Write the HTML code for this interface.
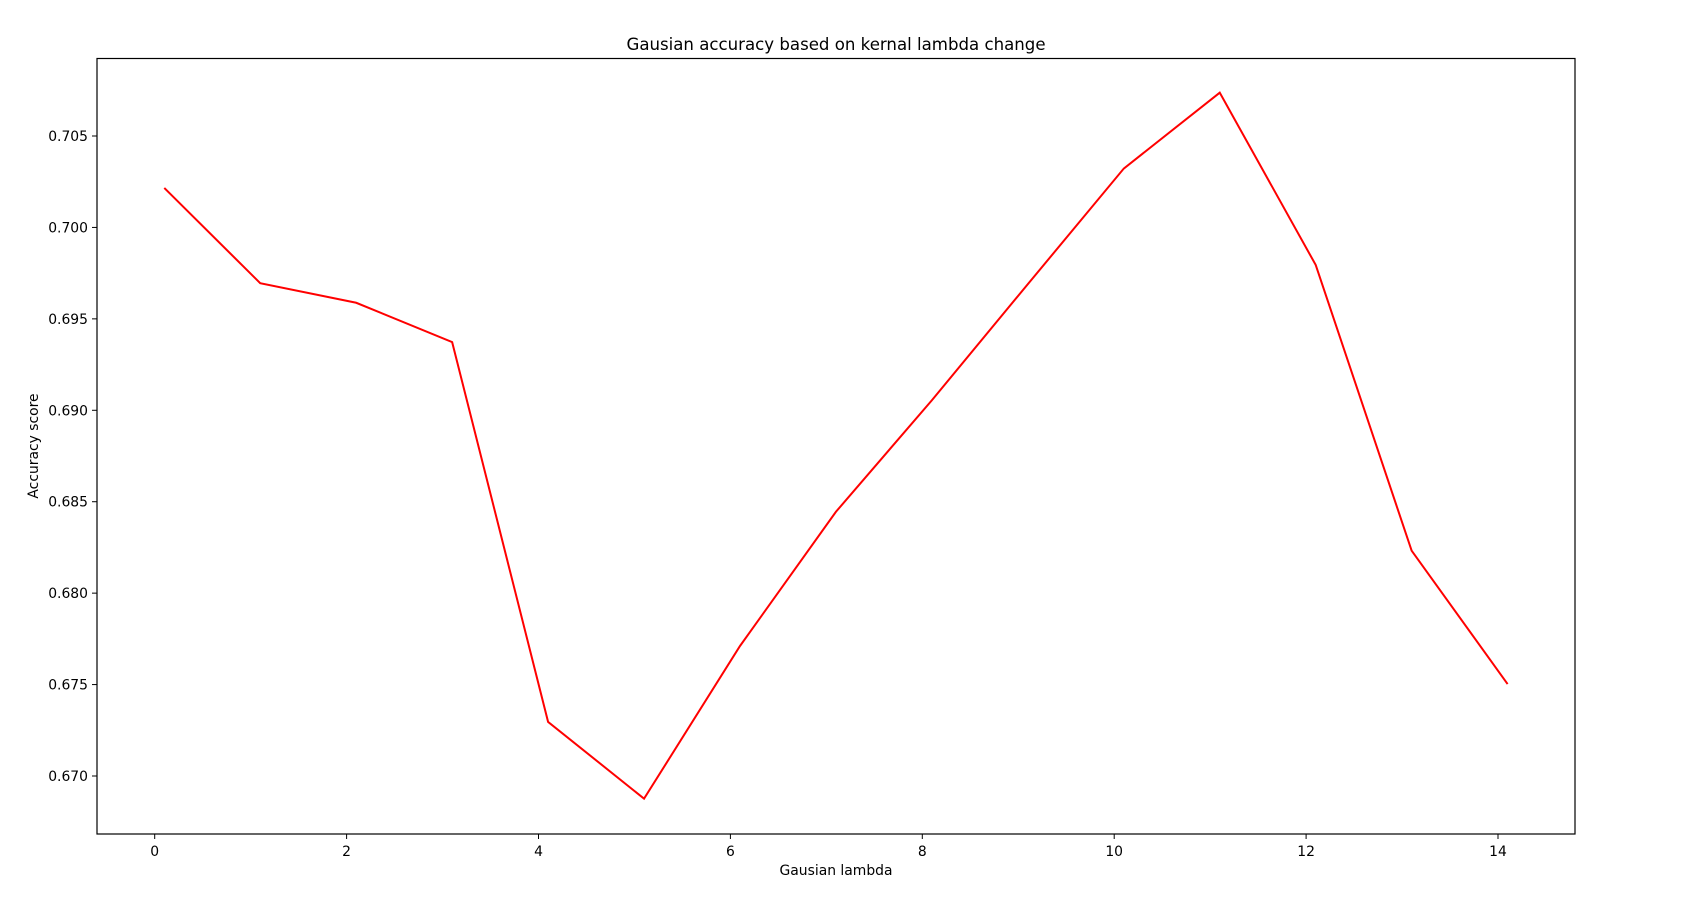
<!DOCTYPE html>
<html><head><meta charset="utf-8"><style>
body{margin:0;background:#fff;}
svg{display:block;font-family:"DejaVu Sans","Liberation Sans",sans-serif;}
</style></head><body>
<svg id="chart" width="1698" height="904">
<text x="836" y="50" text-anchor="middle" font-size="16.6">Gausian accuracy based on kernal lambda change</text>
<text x="836" y="875" text-anchor="middle" font-size="13.9">Gausian lambda</text>
<text x="0" y="0" transform="translate(38,446) rotate(-90)" text-anchor="middle" font-size="13.9">Accuracy score</text>
<g id="ticks"></g>
<polyline id="series" fill="none" stroke="#ff0000" stroke-width="2"/>
<rect x="97" y="58.5" width="1478" height="775.5" fill="none" stroke="#000" stroke-width="1.2"/>
</svg>
<script>
const lambdas=[0.1,1.1,2.1,3.1,4.1,5.1,6.1,7.1,8.1,9.1,10.1,11.1,12.1,13.1,14.1];
const accuracy=[0.70216,0.69695,0.69588,0.69373,0.67296,0.66876,0.67711,0.68445,0.69055,0.6969,0.70322,0.70737,0.69795,0.68232,0.67503];
const xTicks=[0,2,4,6,8,10,12,14];
const yTicks=[0.670,0.675,0.680,0.685,0.690,0.695,0.700,0.705];
const xs=v=>154.7+(v-0)*95.95;
const ys=v=>776-(v-0.670)*(640/0.035);
const NS="http://www.w3.org/2000/svg";
const g=document.getElementById('ticks');
xTicks.forEach(t=>{
 const l=document.createElementNS(NS,'line');
 l.setAttribute('x1',xs(t));l.setAttribute('x2',xs(t));l.setAttribute('y1',834);l.setAttribute('y2',839);l.setAttribute('stroke','#000');
 
 
 g.appendChild(l);
 const tx=document.createElementNS(NS,'text');
 tx.setAttribute('x',xs(t));tx.setAttribute('y',856);tx.setAttribute('text-anchor','middle');tx.setAttribute('font-size','13.9');
 tx.textContent=t;
 
 
 g.appendChild(tx);
});
yTicks.forEach(t=>{
 const l=document.createElementNS(NS,'line');
 l.setAttribute('x1',92);l.setAttribute('x2',97);l.setAttribute('y1',ys(t));l.setAttribute('y2',ys(t));l.setAttribute('stroke','#000');
 
 
 g.appendChild(l);
 const tx=document.createElementNS(NS,'text');
 tx.setAttribute('x',88);tx.setAttribute('y',ys(t)+5);tx.setAttribute('text-anchor','end');tx.setAttribute('font-size','13.9');
 tx.textContent=t.toFixed(3);
 
 
 g.appendChild(tx);
});
document.getElementById('series').setAttribute('points',lambdas.map((x,i)=>xs(x)+','+ys(accuracy[i])).join(' '));
</script>
</body></html>
